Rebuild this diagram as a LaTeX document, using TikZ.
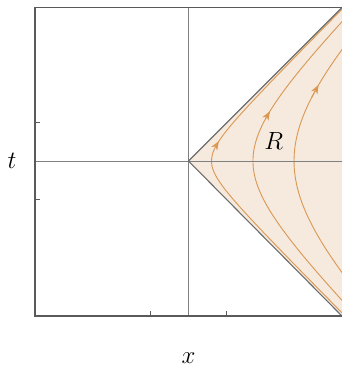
\documentclass[tikz,border=0pt]{standalone}
\usetikzlibrary{arrows.meta}
\definecolor{wedge}{RGB}{246,233,221}
\definecolor{traj}{RGB}{218,152,82}
\definecolor{axisgray}{RGB}{128,128,128}
\definecolor{framegray}{RGB}{90,90,90}
\tikzset{
  traject/.style={traj, line width=0.9pt},
  trajarrow/.style={traj, line width=0.9pt, -{Stealth[length=9pt,width=7pt]}},
  axisline/.style={axisgray, line width=0.8pt},
  horizon/.style={axisgray!85!black, line width=1.1pt},
  framebox/.style={framegray, line width=1.1pt},
  ticks/.style={framegray, line width=0.9pt},
  lab/.style={font=\fontsize{24}{28}\selectfont, inner sep=0pt}
}
\begin{document}
\begin{tikzpicture}[x=76.75pt,y=76.75pt]
\useasboundingbox (-2.456,-2.697) rectangle (2,2.098);
% wedge
\coordinate (O) at (0,0);
\coordinate (TR) at (2,2);
\coordinate (BR) at (2,-2.02);
\fill[wedge] (O) -- (TR) -- (BR) -- cycle;
% trajectories
\begin{scope}
\clip (-2,-2.02) rectangle (2,2);
\foreach \a/\e in {0.3/0.78, 0.84/0.71, 1.375/0.67}{
  \draw[traject] plot[domain=-3.2:3.2, samples=160, variable=\u] ({\a*cosh(\u)},{\a*sinh(\u)});
  \draw[trajarrow] ({\a*cosh(\e-0.1)},{\a*sinh(\e-0.1)}) -- ({\a*cosh(\e)},{\a*sinh(\e)});
}
\end{scope}
% axes
\draw[axisline] (0,-2.02) -- (0,2);
\draw[axisline] (-2,0) -- (2,0);
% horizons
\draw[horizon] (O) -- (TR);
\draw[horizon] (O) -- (BR);
% frame
\draw[framebox] (2,2) -- (-2,2) -- (-2,-2.02) -- (2,-2.02);
% ticks
\foreach \v in {-0.5,0.5}{
  \draw[ticks] (-2,\v) -- ++(5pt,0);
  \draw[ticks] (\v,-2.02) -- ++(0,5pt);
}
% labels
\node[lab] (R) at (1.11,0.26) {$R$};
\node[lab] (tl) at (-2.30,0) {$t$};
\node[lab] (xl) at (0,-2.57) {$x$};
\end{tikzpicture}
\end{document}
